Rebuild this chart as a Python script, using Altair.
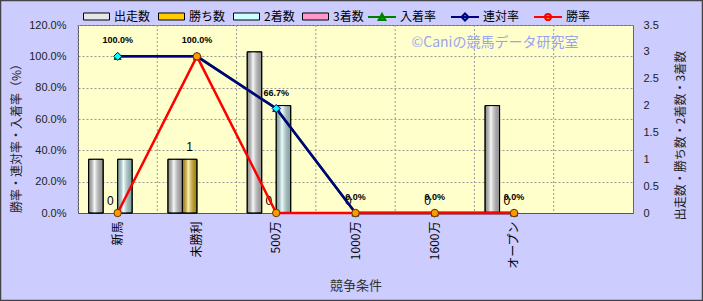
import altair as alt
import pandas as pd

# ---------------- data ----------------
categories = ["新馬", "未勝利", "500万", "1000万", "1600万", "オープン"]
axis_categories = categories + [" "]
bar_series = ["出走数", "勝ち数", "2着数", "3着数"]
starts = [1, 1, 3, 0, 0, 2]
wins = [0, 1, 0, 0, 0, 0]
seconds = [1, 0, 2, 0, 0, 0]
thirds = [0, 0, 0, 0, 0, 0]
rate_series = ["入着率", "連対率", "勝率"]
place_rate = [1.0, 1.0, 0.667, 0.0, 0.0, 0.0]
quinella_rate = [1.0, 1.0, 0.667, 0.0, 0.0, 0.0]
win_rate = [0.0, 1.0, 0.0, 0.0, 0.0, 0.0]
left_ticks = [0, 0.2, 0.4, 0.6, 0.8, 1.0, 1.2]
right_ticks = [0, 0.5, 1, 1.5, 2, 2.5, 3, 3.5]
watermark_text = "©Caniの競馬データ研究室"

# ---------------- styles ----------------
JP = "Noto Sans CJK JP"
LAT = "Liberation Sans"
bar_colors = ["#E6E6E6", "#FFCC00", "#CCFFFF", "#FF99CC"]
line_colors = ["#008000", "#000080", "#FF0000"]
marker_fills = ["#00B000", "#00FFFF", "#FF9900"]
marker_strokes = ["#004000", "#000080", "#663300"]
marker_shapes = ["triangle-up", "diamond", "circle"]
marker_sizes = [50, 65, 55]
legend_paths = [
    "M-1,0H1M-0.24,0.21L0,-0.23L0.24,0.21Z",
    "M-1,0H1M0,-0.25L0.25,0L0,0.25L-0.25,0Z",
    "M-1,0H1M0.22,0A0.22,0.22 0 1,1 -0.22,0A0.22,0.22 0 1,1 0.22,0Z",
]

bars_df = pd.DataFrame(
    [
        {"cat": c, "series": s, "value": v}
        for s, vals in zip(bar_series, [starts, wins, seconds, thirds])
        for c, v in zip(categories, vals)
    ]
)
wins_df = pd.DataFrame({"cat": categories, "series": "勝ち数", "value": wins})
rates = {"入着率": place_rate, "連対率": quinella_rate, "勝率": win_rate}
grid_df = pd.DataFrame({"cat": axis_categories})


def xenc(**kw):
    return alt.X(
        "cat:N",
        scale=alt.Scale(type="band", domain=axis_categories, paddingInner=0, paddingOuter=0),
        axis=alt.Axis(
            title="競争条件", labelAngle=270, labelFont=JP, labelFontSize=12,
            labelColor="black", labelPadding=8, ticks=False, domainColor="#555",
            grid=False, titleFont=JP, titleFontSize=13, titleColor="#333",
            titleFontWeight="normal", titleY=72, titleBaseline="middle",
        ),
        **kw,
    )


xoff = alt.XOffset("series:N", scale=alt.Scale(domain=bar_series, paddingInner=0, paddingOuter=0.734))

yright = alt.Y(
    "value:Q",
    scale=alt.Scale(domain=[0, 3.5], nice=False),
    axis=alt.Axis(
        orient="right", values=right_ticks, format=".1~f", grid=False, ticks=False,
        labelPadding=10, labelFont=LAT, labelFontSize=11, labelColor="#222",
        domain=False, title="出走数・勝ち数・2着数・3着数", titleFont=JP, titleFontSize=12,
        titleColor="#222", titleFontWeight="normal", titleAngle=270, titleX=47, titleY=110,
        titleAlign="center", titleBaseline="middle",
    ),
)

yleft = alt.Y(
    "value:Q",
    scale=alt.Scale(domain=[0, 1.2], nice=False),
    axis=alt.Axis(
        orient="left", values=left_ticks, format=".1%", grid=True, gridColor="#999",
        gridDash=[2, 2], ticks=False, labelPadding=12, labelFont=LAT, labelFontSize=11,
        labelColor="#222", domainColor="#555", title="勝率・連対率・入着率（%）",
        titleFont=JP, titleFontSize=12, titleColor="#222", titleFontWeight="normal",
        titleAngle=270, titleX=-62, titleY=110, titleAlign="center", titleBaseline="middle",
    ),
)

bar_legend = alt.Legend(
    title=None, orient="none", legendX=5, legendY=-22, direction="horizontal",
    symbolType="M-1,-0.27H1V0.27H-1Z", symbolSize=676, symbolStrokeColor="black",
    symbolStrokeWidth=1, labelFont=JP, labelFontSize=12, labelColor="black",
    columnPadding=5, labelOffset=4, gridAlign="none",
)
line_legend = alt.Legend(
    title=None, orient="none", legendX=289, legendY=-23, direction="horizontal",
    symbolSize=784, symbolStrokeWidth=2, labelFont=JP, labelFontSize=12,
    labelColor="black", columnPadding=10, labelOffset=3, symbolOpacity=1, gridAlign="none",
)

# ---------------- layers ----------------
grid_rules = alt.Chart(grid_df).mark_rule(color="#999", strokeDash=[2, 2], strokeWidth=1).encode(
    x=xenc(bandPosition=0)
)

bars_base = alt.Chart(bars_df).mark_bar(stroke="black", strokeWidth=1).transform_filter(
    "datum.value > 0"
).encode(
    x=xenc(), xOffset=xoff, y=yright,
    color=alt.Color("series:N", scale=alt.Scale(domain=bar_series, range=bar_colors), legend=bar_legend),
)
gradient = alt.Gradient(
    gradient="linear",
    stops=[
        alt.GradientStop(offset=0, color="rgba(0,0,0,0.35)"),
        alt.GradientStop(offset=0.4, color="rgba(255,255,255,0.7)"),
        alt.GradientStop(offset=1, color="rgba(0,0,0,0.35)"),
    ],
    x1=0, x2=1, y1=0, y2=0,
)
bars_shade = alt.Chart(bars_df).mark_bar(color=gradient, stroke="black", strokeWidth=1).transform_filter(
    "datum.value > 0"
).encode(x=xenc(), xOffset=xoff, y=yright)

bar_labels = alt.Chart(wins_df).mark_text(
    font=LAT, fontSize=12, color="black", baseline="middle", dy=-12
).encode(x=xenc(), xOffset=xoff, y=yright, text=alt.Text("value:Q"))

right_group = alt.layer(bars_base, bars_shade, bar_labels)

left_layers = []
for i, name in enumerate(rate_series):
    df = pd.DataFrame({"cat": categories, "value": rates[name]})
    left_layers.append(
        alt.Chart(df).mark_line(color=line_colors[i], strokeWidth=2.5).encode(x=xenc(), y=yleft)
    )
    left_layers.append(
        alt.Chart(df).mark_point(
            shape=marker_shapes[i], filled=True, fill=marker_fills[i], stroke=marker_strokes[i],
            strokeWidth=1, size=marker_sizes[i], opacity=1,
        ).encode(x=xenc(), y=yleft)
    )
label_df = pd.DataFrame({"cat": categories, "value": place_rate})
left_layers.append(
    alt.Chart(label_df).mark_text(
        font=LAT, fontSize=9, fontWeight="bold", color="black", baseline="middle", dy=-16
    ).encode(x=xenc(), y=yleft, text=alt.Text("value:Q", format=".1%"))
)
left_group = alt.layer(*left_layers)

legend_layer = alt.Chart(pd.DataFrame({"rate": rate_series})).mark_point(opacity=1).transform_filter(
    "false"
).encode(
    shape=alt.Shape("rate:N", scale=alt.Scale(domain=rate_series, range=legend_paths), legend=line_legend),
    fill=alt.Fill("rate:N", scale=alt.Scale(domain=rate_series, range=marker_fills), legend=line_legend),
    stroke=alt.Stroke("rate:N", scale=alt.Scale(domain=rate_series, range=line_colors), legend=line_legend),
)

watermark = alt.Chart(pd.DataFrame({"t": [watermark_text]})).mark_text(
    font=JP, fontSize=14, color="#99A3F0", align="center", baseline="middle"
).encode(x=alt.value(417), y=alt.value(18), text="t:N")

border = alt.Chart(pd.DataFrame({"t": [0]})).mark_rect(
    fill="transparent", stroke="#444", strokeWidth=1.5
).encode(x=alt.value(-77.5), x2=alt.value(624.5), y=alt.value(-24.5), y2=alt.value(275.5))

chart = (
    alt.layer(grid_rules, right_group, left_group, legend_layer, watermark, border)
    .resolve_scale(y="independent")
    .properties(
        width=555, height=188,
        autosize=alt.AutoSizeParams(type="none"),
        padding={"left": 78, "top": 25, "right": 70, "bottom": 88},
        background="#CCCCFF",
        view=alt.ViewBackground(fill="#FFFFCC", stroke="#666", strokeWidth=1),
    )
    .configure_view(fill="#FFFFCC", stroke="#666", strokeWidth=1)
)

chart.save("out.html", embed_options={"renderer": "svg", "actions": False})
